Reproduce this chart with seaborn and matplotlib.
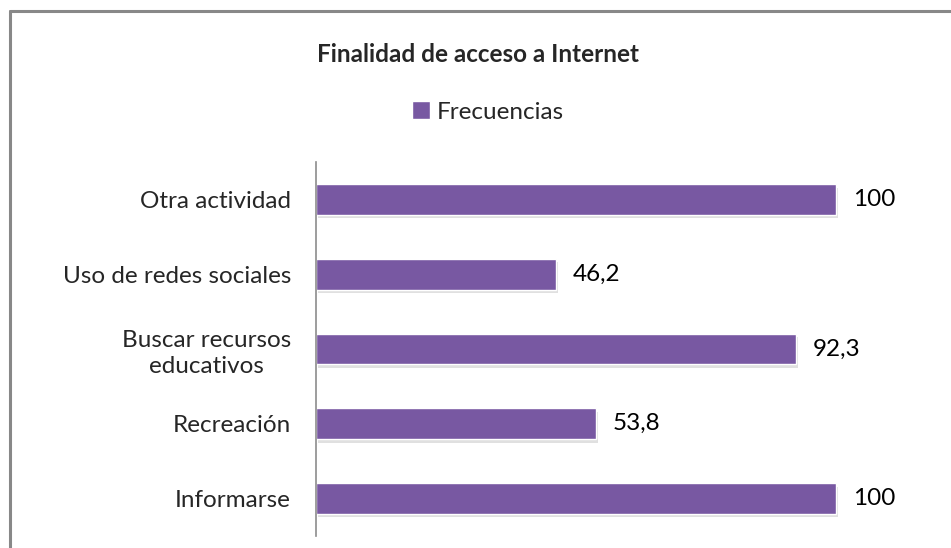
import seaborn as sns
import pandas as pd
from matplotlib import pyplot as plt
from matplotlib import patheffects
from matplotlib.lines import Line2D
from matplotlib.patches import Patch

categories = ['Otra actividad', 'Uso de redes sociales', 'Buscar recursos\neducativos', 'Recreación', 'Informarse']
frecuencias = [100, 46.2, 92.3, 53.8, 100]
value_labels = ['100', '46,2', '92,3', '53,8', '100']

bar_color = '#7858A2'
W, H = 951, 548
FS = 17.5

sns.set_style('white')
plt.rcParams['font.family'] = ['Lato', 'DejaVu Sans']

data = pd.DataFrame({'categoria': categories, 'frecuencia': frecuencias})

fig = plt.figure(figsize=(W / 100, H / 100), dpi=100)
ax = fig.add_axes([316 / W, 12 / H, 624 / W, 374 / H])
sns.barplot(data=data, x='frecuencia', y='categoria', orient='h', color=bar_color,
            saturation=1, width=0.41, ax=ax)

for patch in ax.patches:
    patch.set_path_effects([patheffects.SimplePatchShadow(offset=(1.5, -2.5), shadow_rgbFace='#999999', alpha=0.3),
                            patheffects.Normal()])

ax.bar_label(ax.containers[0], labels=value_labels, padding=12, fontsize=FS, color='black')

ax.set_xlim(0, 120)
ax.set_xlabel('')
ax.set_ylabel('')
ax.set_xticks([])
ax.tick_params(axis='y', length=0, pad=18, labelsize=FS)
for label in ax.get_yticklabels():
    label.set_multialignment('center')
    label.set_linespacing(1.3)
sns.despine(ax=ax, top=True, right=True, bottom=True, left=False)
ax.spines['left'].set_color('#8c8c8c')
ax.spines['left'].set_linewidth(1.2)

fig.text(478 / W, 1 - 55 / H, 'Finalidad de acceso a Internet', ha='center', va='center',
         fontsize=FS, fontweight='bold')
fig.legend(handles=[Patch(facecolor=bar_color, label='Frecuencias')], loc='center',
           bbox_to_anchor=(488 / W, 1 - 112 / H), frameon=False, fontsize=FS,
           handlelength=0.75, handleheight=0.75, handletextpad=0.3)

# chart area border (left and top edges visible)
fig.add_artist(Line2D([9.5 / W, 9.5 / W], [0, 1 - 10.5 / H], color='#888888', lw=2.2))
fig.add_artist(Line2D([9.5 / W, 1], [1 - 10.5 / H, 1 - 10.5 / H], color='#888888', lw=2.2))

plt.savefig('out.png', dpi=100)
